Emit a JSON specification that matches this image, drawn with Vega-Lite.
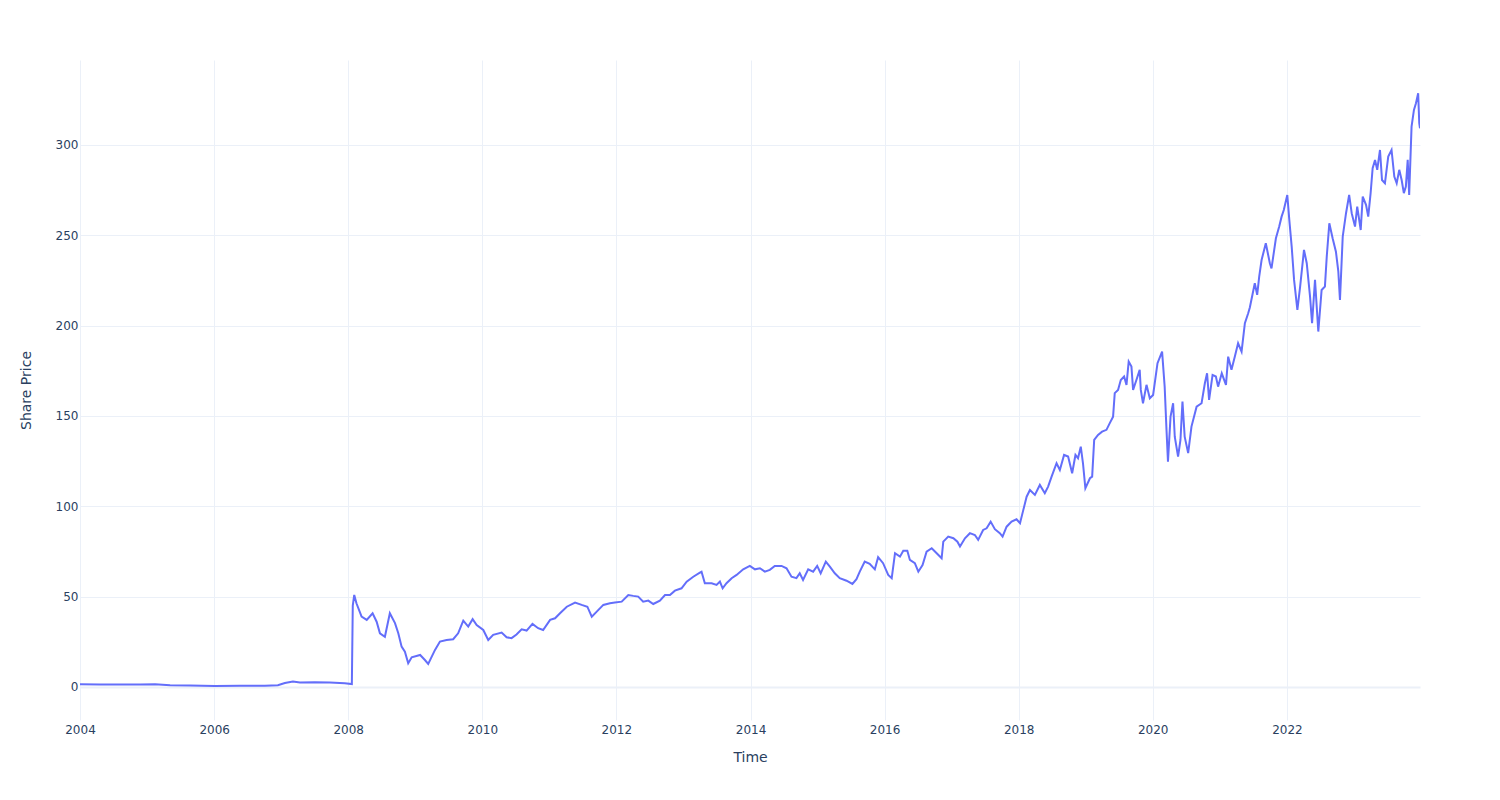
{
  "$schema": "https://vega.github.io/schema/vega-lite/v6.json",
  "width": 1340,
  "height": 660,
  "autosize": {"type": "none"},
  "padding": {"left": 80, "top": 60, "right": 80, "bottom": 80},
  "background": "white",
  "config": {"view": {"stroke": null}, "font": "DejaVu Sans"},
  "data": {
    "values": [
      {"date": "2004-01-01", "price": 1.5},
      {"date": "2004-04-19", "price": 1.4},
      {"date": "2004-08-06", "price": 1.3},
      {"date": "2004-11-23", "price": 1.4},
      {"date": "2005-02-13", "price": 1.5},
      {"date": "2005-05-06", "price": 1.0},
      {"date": "2005-08-23", "price": 0.8},
      {"date": "2006-01-05", "price": 0.5},
      {"date": "2006-05-21", "price": 0.6},
      {"date": "2006-10-04", "price": 0.6},
      {"date": "2006-12-14", "price": 0.9},
      {"date": "2007-01-21", "price": 2.2},
      {"date": "2007-03-06", "price": 3.0},
      {"date": "2007-04-13", "price": 2.4},
      {"date": "2007-07-03", "price": 2.6},
      {"date": "2007-09-23", "price": 2.4},
      {"date": "2007-12-13", "price": 2.0},
      {"date": "2008-01-21", "price": 1.6},
      {"date": "2008-01-26", "price": 45.0},
      {"date": "2008-02-03", "price": 50.9},
      {"date": "2008-02-15", "price": 46.3},
      {"date": "2008-03-14", "price": 38.9},
      {"date": "2008-04-11", "price": 37.1},
      {"date": "2008-05-13", "price": 40.8},
      {"date": "2008-06-04", "price": 36.1},
      {"date": "2008-06-22", "price": 29.7},
      {"date": "2008-07-19", "price": 27.8},
      {"date": "2008-08-15", "price": 40.8},
      {"date": "2008-09-12", "price": 35.3},
      {"date": "2008-09-30", "price": 29.7},
      {"date": "2008-10-18", "price": 22.3},
      {"date": "2008-11-05", "price": 19.5},
      {"date": "2008-11-23", "price": 13.1},
      {"date": "2008-12-12", "price": 16.4},
      {"date": "2009-01-27", "price": 17.7},
      {"date": "2009-02-22", "price": 14.9},
      {"date": "2009-03-12", "price": 12.7},
      {"date": "2009-04-18", "price": 20.5},
      {"date": "2009-05-15", "price": 25.1},
      {"date": "2009-06-20", "price": 26.0},
      {"date": "2009-07-26", "price": 26.4},
      {"date": "2009-08-22", "price": 29.7},
      {"date": "2009-09-19", "price": 36.7},
      {"date": "2009-10-16", "price": 33.4},
      {"date": "2009-11-09", "price": 37.5},
      {"date": "2009-12-01", "price": 34.3},
      {"date": "2010-01-06", "price": 31.5},
      {"date": "2010-02-02", "price": 26.0},
      {"date": "2010-03-01", "price": 28.8},
      {"date": "2010-04-16", "price": 30.1},
      {"date": "2010-05-13", "price": 27.5},
      {"date": "2010-06-09", "price": 27.0},
      {"date": "2010-07-06", "price": 29.0},
      {"date": "2010-08-03", "price": 31.9},
      {"date": "2010-08-30", "price": 31.2},
      {"date": "2010-10-01", "price": 34.9},
      {"date": "2010-11-01", "price": 32.5},
      {"date": "2010-11-28", "price": 31.5},
      {"date": "2011-01-05", "price": 37.1},
      {"date": "2011-02-01", "price": 38.0},
      {"date": "2011-02-28", "price": 40.8},
      {"date": "2011-04-06", "price": 44.4},
      {"date": "2011-05-21", "price": 46.7},
      {"date": "2011-06-26", "price": 45.4},
      {"date": "2011-07-27", "price": 44.4},
      {"date": "2011-08-20", "price": 38.9},
      {"date": "2011-09-16", "price": 41.7},
      {"date": "2011-10-22", "price": 45.4},
      {"date": "2011-11-27", "price": 46.3},
      {"date": "2011-12-24", "price": 46.7},
      {"date": "2012-01-30", "price": 47.2},
      {"date": "2012-03-06", "price": 50.9},
      {"date": "2012-04-02", "price": 50.4},
      {"date": "2012-04-29", "price": 50.0},
      {"date": "2012-05-26", "price": 47.2},
      {"date": "2012-06-23", "price": 47.8},
      {"date": "2012-07-20", "price": 45.9},
      {"date": "2012-08-25", "price": 47.8},
      {"date": "2012-09-22", "price": 50.9},
      {"date": "2012-10-19", "price": 50.9},
      {"date": "2012-11-15", "price": 53.3},
      {"date": "2012-12-21", "price": 54.6},
      {"date": "2013-01-18", "price": 58.3},
      {"date": "2013-02-23", "price": 61.0},
      {"date": "2013-03-31", "price": 63.3},
      {"date": "2013-04-09", "price": 63.8},
      {"date": "2013-04-27", "price": 57.4},
      {"date": "2013-06-03", "price": 57.4},
      {"date": "2013-06-30", "price": 56.5},
      {"date": "2013-07-18", "price": 58.3},
      {"date": "2013-08-02", "price": 54.6},
      {"date": "2013-08-23", "price": 57.4},
      {"date": "2013-09-20", "price": 60.2},
      {"date": "2013-10-17", "price": 62.0},
      {"date": "2013-11-22", "price": 65.1},
      {"date": "2013-12-28", "price": 67.0},
      {"date": "2014-01-25", "price": 65.1},
      {"date": "2014-02-21", "price": 65.7},
      {"date": "2014-03-20", "price": 63.8},
      {"date": "2014-04-16", "price": 64.8},
      {"date": "2014-05-13", "price": 67.0},
      {"date": "2014-06-19", "price": 67.0},
      {"date": "2014-07-16", "price": 65.7},
      {"date": "2014-08-12", "price": 61.0},
      {"date": "2014-09-08", "price": 60.2},
      {"date": "2014-09-26", "price": 62.9},
      {"date": "2014-10-14", "price": 59.2},
      {"date": "2014-11-11", "price": 65.1},
      {"date": "2014-12-08", "price": 63.8},
      {"date": "2014-12-30", "price": 67.0},
      {"date": "2015-01-18", "price": 62.9},
      {"date": "2015-02-15", "price": 69.4},
      {"date": "2015-03-09", "price": 66.6},
      {"date": "2015-04-05", "price": 62.9},
      {"date": "2015-05-02", "price": 60.2},
      {"date": "2015-06-08", "price": 58.8},
      {"date": "2015-07-10", "price": 57.0},
      {"date": "2015-08-01", "price": 59.6},
      {"date": "2015-08-19", "price": 63.8},
      {"date": "2015-09-15", "price": 69.4},
      {"date": "2015-10-12", "price": 68.1},
      {"date": "2015-11-09", "price": 65.1},
      {"date": "2015-11-27", "price": 71.8},
      {"date": "2015-12-24", "price": 68.5},
      {"date": "2016-01-21", "price": 62.0},
      {"date": "2016-02-09", "price": 60.2},
      {"date": "2016-02-27", "price": 74.0},
      {"date": "2016-03-25", "price": 72.1},
      {"date": "2016-04-12", "price": 75.4},
      {"date": "2016-05-04", "price": 75.4},
      {"date": "2016-05-18", "price": 70.3},
      {"date": "2016-06-14", "price": 68.5},
      {"date": "2016-07-03", "price": 63.8},
      {"date": "2016-07-26", "price": 67.5},
      {"date": "2016-08-17", "price": 74.9},
      {"date": "2016-09-14", "price": 76.8},
      {"date": "2016-10-11", "price": 74.0},
      {"date": "2016-11-07", "price": 71.2},
      {"date": "2016-11-16", "price": 80.4},
      {"date": "2016-12-13", "price": 83.2},
      {"date": "2017-01-10", "price": 82.3},
      {"date": "2017-02-01", "price": 80.4},
      {"date": "2017-02-15", "price": 77.7},
      {"date": "2017-03-14", "price": 82.3},
      {"date": "2017-04-10", "price": 85.1},
      {"date": "2017-05-07", "price": 84.1},
      {"date": "2017-05-25", "price": 81.4},
      {"date": "2017-06-21", "price": 86.9},
      {"date": "2017-07-10", "price": 87.8},
      {"date": "2017-08-01", "price": 91.5},
      {"date": "2017-08-24", "price": 87.3},
      {"date": "2017-09-20", "price": 85.1},
      {"date": "2017-10-05", "price": 83.2},
      {"date": "2017-10-27", "price": 88.7},
      {"date": "2017-11-23", "price": 91.5},
      {"date": "2017-12-20", "price": 92.8},
      {"date": "2018-01-08", "price": 90.6},
      {"date": "2018-01-26", "price": 98.0},
      {"date": "2018-02-13", "price": 105.3},
      {"date": "2018-03-03", "price": 109.0},
      {"date": "2018-03-30", "price": 106.3},
      {"date": "2018-04-26", "price": 111.8},
      {"date": "2018-05-23", "price": 107.2},
      {"date": "2018-06-10", "price": 110.9},
      {"date": "2018-06-29", "price": 116.4},
      {"date": "2018-07-26", "price": 123.8},
      {"date": "2018-08-13", "price": 120.1},
      {"date": "2018-09-05", "price": 128.4},
      {"date": "2018-09-27", "price": 127.5},
      {"date": "2018-10-19", "price": 118.3},
      {"date": "2018-11-06", "price": 128.4},
      {"date": "2018-11-20", "price": 126.6},
      {"date": "2018-12-05", "price": 133.0},
      {"date": "2018-12-17", "price": 123.8},
      {"date": "2018-12-30", "price": 110.0},
      {"date": "2019-01-24", "price": 115.5},
      {"date": "2019-02-05", "price": 116.4},
      {"date": "2019-02-16", "price": 136.7},
      {"date": "2019-03-09", "price": 139.5},
      {"date": "2019-03-31", "price": 141.3},
      {"date": "2019-04-24", "price": 142.3},
      {"date": "2019-05-12", "price": 146.0},
      {"date": "2019-05-30", "price": 149.6},
      {"date": "2019-06-08", "price": 162.6},
      {"date": "2019-06-26", "price": 164.4},
      {"date": "2019-07-11", "price": 169.9},
      {"date": "2019-07-29", "price": 171.8},
      {"date": "2019-08-11", "price": 167.2},
      {"date": "2019-08-23", "price": 180.1},
      {"date": "2019-09-07", "price": 177.3},
      {"date": "2019-09-16", "price": 164.4},
      {"date": "2019-10-04", "price": 169.9},
      {"date": "2019-10-22", "price": 175.5},
      {"date": "2019-10-28", "price": 164.4},
      {"date": "2019-11-09", "price": 157.0},
      {"date": "2019-11-28", "price": 167.2},
      {"date": "2019-12-16", "price": 159.8},
      {"date": "2020-01-03", "price": 161.6},
      {"date": "2020-01-27", "price": 179.2},
      {"date": "2020-02-21", "price": 185.6},
      {"date": "2020-03-06", "price": 166.2},
      {"date": "2020-03-16", "price": 142.3},
      {"date": "2020-03-24", "price": 124.7},
      {"date": "2020-04-07", "price": 149.6},
      {"date": "2020-04-21", "price": 157.0},
      {"date": "2020-04-30", "price": 138.5},
      {"date": "2020-05-18", "price": 127.5},
      {"date": "2020-05-31", "price": 136.7},
      {"date": "2020-06-11", "price": 157.9},
      {"date": "2020-06-23", "price": 138.5},
      {"date": "2020-07-12", "price": 129.4},
      {"date": "2020-07-30", "price": 144.1},
      {"date": "2020-08-27", "price": 155.1},
      {"date": "2020-09-23", "price": 157.0},
      {"date": "2020-10-11", "price": 168.1},
      {"date": "2020-10-23", "price": 173.6},
      {"date": "2020-11-03", "price": 158.9},
      {"date": "2020-11-22", "price": 172.7},
      {"date": "2020-12-10", "price": 171.8},
      {"date": "2020-12-22", "price": 166.2},
      {"date": "2021-01-11", "price": 173.6},
      {"date": "2021-02-03", "price": 167.2},
      {"date": "2021-02-15", "price": 182.8},
      {"date": "2021-03-05", "price": 175.5},
      {"date": "2021-03-23", "price": 182.8},
      {"date": "2021-04-10", "price": 190.2},
      {"date": "2021-04-29", "price": 185.6},
      {"date": "2021-05-17", "price": 201.3},
      {"date": "2021-06-04", "price": 206.8},
      {"date": "2021-06-13", "price": 210.0},
      {"date": "2021-07-10", "price": 223.4},
      {"date": "2021-07-23", "price": 217.0},
      {"date": "2021-08-03", "price": 227.1},
      {"date": "2021-08-16", "price": 236.3},
      {"date": "2021-09-08", "price": 245.6},
      {"date": "2021-09-30", "price": 234.5},
      {"date": "2021-10-09", "price": 231.7},
      {"date": "2021-11-02", "price": 248.3},
      {"date": "2021-11-20", "price": 254.8},
      {"date": "2021-12-03", "price": 260.3},
      {"date": "2021-12-15", "price": 264.0},
      {"date": "2022-01-03", "price": 272.3},
      {"date": "2022-01-14", "price": 258.5},
      {"date": "2022-01-27", "price": 243.7},
      {"date": "2022-02-09", "price": 225.3},
      {"date": "2022-02-27", "price": 208.7},
      {"date": "2022-03-14", "price": 221.6},
      {"date": "2022-04-04", "price": 241.9},
      {"date": "2022-04-19", "price": 234.5},
      {"date": "2022-05-07", "price": 216.0},
      {"date": "2022-05-18", "price": 201.3},
      {"date": "2022-06-03", "price": 225.3},
      {"date": "2022-06-21", "price": 196.7},
      {"date": "2022-07-09", "price": 219.7},
      {"date": "2022-07-27", "price": 221.6},
      {"date": "2022-08-06", "price": 238.2},
      {"date": "2022-08-20", "price": 256.6},
      {"date": "2022-09-07", "price": 248.3},
      {"date": "2022-09-25", "price": 240.9},
      {"date": "2022-10-08", "price": 230.0},
      {"date": "2022-10-17", "price": 214.2},
      {"date": "2022-11-01", "price": 249.2},
      {"date": "2022-11-19", "price": 262.2},
      {"date": "2022-12-06", "price": 272.3},
      {"date": "2022-12-20", "price": 262.2},
      {"date": "2023-01-07", "price": 254.8},
      {"date": "2023-01-19", "price": 265.8},
      {"date": "2023-02-07", "price": 252.9},
      {"date": "2023-02-18", "price": 271.4},
      {"date": "2023-03-08", "price": 266.8},
      {"date": "2023-03-20", "price": 260.3},
      {"date": "2023-04-02", "price": 273.3},
      {"date": "2023-04-13", "price": 287.1},
      {"date": "2023-04-26", "price": 291.7},
      {"date": "2023-05-08", "price": 286.2},
      {"date": "2023-05-23", "price": 297.2},
      {"date": "2023-06-03", "price": 280.6},
      {"date": "2023-06-19", "price": 278.8},
      {"date": "2023-07-07", "price": 293.5},
      {"date": "2023-07-25", "price": 297.2},
      {"date": "2023-08-09", "price": 282.5},
      {"date": "2023-08-22", "price": 278.8},
      {"date": "2023-09-05", "price": 286.2},
      {"date": "2023-09-18", "price": 280.6},
      {"date": "2023-09-30", "price": 273.3},
      {"date": "2023-10-11", "price": 277.0},
      {"date": "2023-10-21", "price": 291.7},
      {"date": "2023-10-29", "price": 272.3},
      {"date": "2023-11-11", "price": 310.1},
      {"date": "2023-11-24", "price": 319.4},
      {"date": "2023-12-05", "price": 323.1},
      {"date": "2023-12-17", "price": 328.6},
      {"date": "2023-12-23", "price": 312.0},
      {"date": "2023-12-27", "price": 309.2}
    ]
  },
  "mark": {"type": "line", "color": "#636efa", "strokeWidth": 2, "clip": true},
  "encoding": {
    "x": {
      "field": "date",
      "type": "temporal",
      "title": "Time",
      "scale": {"domain": ["2004-01-01", "2023-12-27"], "nice": false},
      "axis": {
        "format": "%Y",
        "tickCount": {"interval": "year", "step": 2},
        "domain": false,
        "ticks": false,
        "grid": true,
        "gridColor": "#ebf0f8",
        "gridWidth": 1,
        "labelColor": "#2a3f5f",
        "labelFontSize": 12,
        "labelPadding": 4,
        "labelFlush": false,
        "labelOverlap": false,
        "titleColor": "#2a3f5f",
        "titleFontSize": 14,
        "titleFontWeight": "normal",
        "titlePadding": 15
      }
    },
    "y": {
      "field": "price",
      "type": "quantitative",
      "title": "Share Price",
      "scale": {"domain": [-18.3, 347], "nice": false, "zero": false},
      "axis": {
        "values": [0, 50, 100, 150, 200, 250, 300],
        "domain": false,
        "ticks": false,
        "grid": true,
        "gridColor": "#ebf0f8",
        "gridWidth": {"condition": {"test": "datum.value === 0", "value": 2}, "value": 1},
        "labelColor": "#2a3f5f",
        "labelFontSize": 12,
        "labelPadding": 2,
        "titleColor": "#2a3f5f",
        "titleFontSize": 14,
        "titleFontWeight": "normal",
        "titlePadding": 22
      }
    }
  }
}
